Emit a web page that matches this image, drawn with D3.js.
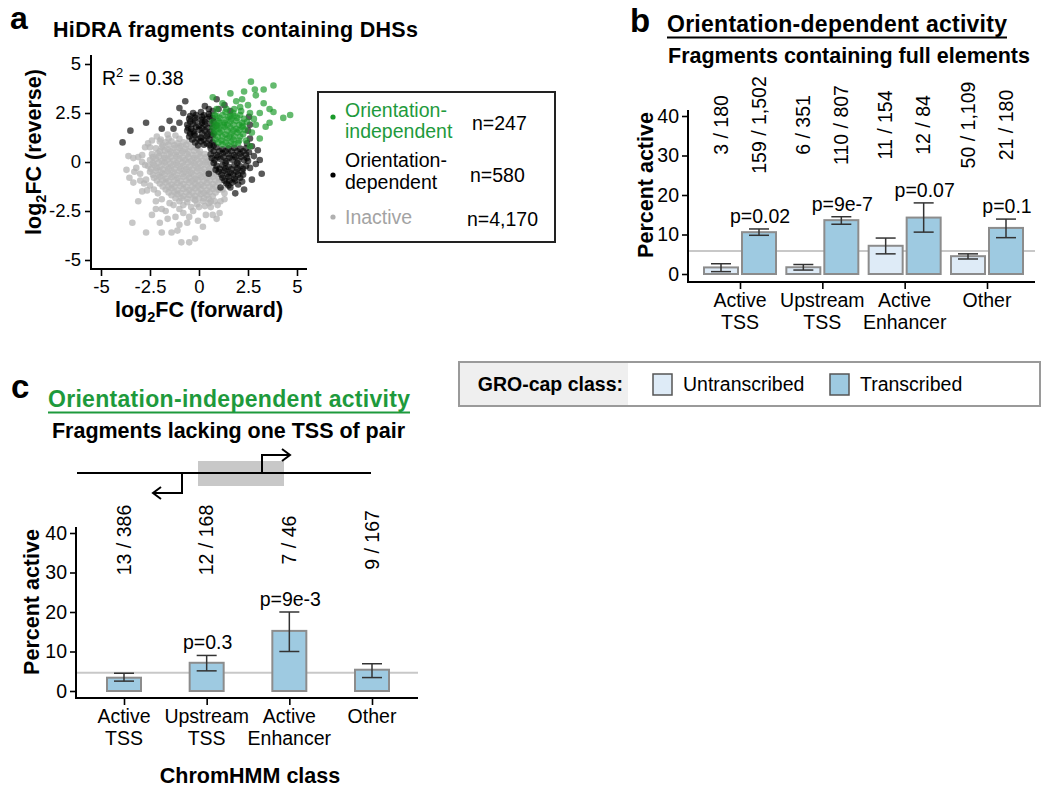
<!DOCTYPE html>
<html><head><meta charset="utf-8">
<script src="https://cdn.jsdelivr.net/npm/d3@7"></script>
<style>
body{margin:0;background:#fff;}
text{font-family:"Liberation Sans",Arial,sans-serif;}
</style></head>
<body><svg id="c" width="1050" height="792"></svg>
<script>
// ---------------- DATA ----------------
const inactivePts = [
[-3.4,-3.1],[-2.7,-3.6],[-1.9,-3.6],[-1.4,-3.6],[-1.1,-3.5],[-0.9,-4.1],[-0.5,-4.1],[-0.2,-3.9],[-0.6,-3.1],[-0.05,-3.0],[0.35,-2.7],[1.05,-2.6],[0.95,-2.2],[-1.9,-2.4],[-1.5,-2.1],[-2.65,-1.45],[-2.9,-1.5],[-3.35,-1.05],[-3.55,-0.8],[-3.7,-0.4],[-3.35,0.2],[-3.1,0.25],[-2.75,0.75],[-2.4,1.1],[-2.15,1.3],[-1.6,1.4],[-1.2,1.35],[-2.75,-0.15],[-3.0,-0.6],[-2.2,-2.0],[-1.2,-2.8],[-0.3,-2.5],[0.6,-2.3],[1.3,-1.9],[-0.8,-2.6],[-1.6,-2.9],[0.2,-3.3],[-2.4,-2.7],[-3.1,-2.0],[1.2,-1.4],[1.4,-1.0],
[-1.7,1.0],[-1.4,1.05],[-1.1,0.95],[-0.8,1.0],[-0.5,1.05],
[-2.2,0.7],[-1.9,0.75],[-1.6,0.65],[-1.3,0.7],[-1.0,0.72],[-0.7,0.68],[-0.4,0.75],[-0.1,0.7],
[-2.4,0.4],[-2.1,0.45],[-1.8,0.35],[-1.5,0.42],[-1.2,0.38],[-0.9,0.45],[-0.6,0.4],[-0.3,0.35],[0.0,0.42],[0.3,0.4],
[-2.5,0.1],[-2.2,0.15],[-1.9,0.05],[-1.6,0.12],[-1.3,0.08],[-1.0,0.15],[-0.7,0.1],[-0.4,0.05],[-0.1,0.12],[0.2,0.08],[0.5,0.1],
[-2.6,-0.2],[-2.3,-0.15],[-2.0,-0.25],[-1.7,-0.18],[-1.4,-0.22],[-1.1,-0.15],[-0.8,-0.2],[-0.5,-0.25],[-0.2,-0.18],[0.1,-0.22],[0.4,-0.15],[0.7,-0.2],
[-2.5,-0.5],[-2.2,-0.45],[-1.9,-0.55],[-1.6,-0.48],[-1.3,-0.52],[-1.0,-0.45],[-0.7,-0.5],[-0.4,-0.55],[-0.1,-0.48],[0.2,-0.52],[0.5,-0.45],[0.8,-0.5],
[-2.3,-0.8],[-2.0,-0.75],[-1.7,-0.85],[-1.4,-0.78],[-1.1,-0.82],[-0.8,-0.75],[-0.5,-0.8],[-0.2,-0.85],[0.1,-0.78],[0.4,-0.82],[0.7,-0.75],[1.0,-0.8],
[-2.0,-1.1],[-1.7,-1.05],[-1.4,-1.15],[-1.1,-1.08],[-0.8,-1.12],[-0.5,-1.05],[-0.2,-1.1],[0.1,-1.15],[0.4,-1.08],[0.7,-1.12],[1.0,-1.05],
[-1.7,-1.4],[-1.4,-1.35],[-1.1,-1.45],[-0.8,-1.38],[-0.5,-1.42],[-0.2,-1.35],[0.1,-1.4],[0.4,-1.45],[0.7,-1.38],[1.0,-1.42],
[-1.4,-1.7],[-1.1,-1.65],[-0.8,-1.75],[-0.5,-1.68],[-0.2,-1.72],[0.1,-1.65],[0.4,-1.7],[0.7,-1.75],
[-1.0,-2.0],[-0.6,-2.05],[-0.2,-1.95],[0.2,-2.0],[0.5,-2.1],
[-2.0,0.55],[-1.45,0.55],[-0.85,0.55],[-0.25,0.58],
[-2.35,-0.05],[-1.75,-0.03],[-1.15,-0.05],[-0.55,-0.02],[0.05,-0.05],[0.6,-0.05],
[-2.05,-0.65],[-1.45,-0.65],[-0.85,-0.62],[-0.25,-0.68],[0.35,-0.65],[0.9,-0.63],
[-1.85,-1.25],[-1.25,-1.25],[-0.65,-1.28],[-0.05,-1.22],[0.55,-1.25],
[-1.2,-1.85],[-0.6,-1.88],[0.0,-1.85],[0.5,-1.88],
[-3.0,-0.95],[-2.8,-1.1],[-2.9,0.35],[-2.6,0.95],[-2.1,-1.6],[-1.9,-1.9],[1.2,-0.5],[1.1,-2.0],[-0.4,-2.3],[-1.3,-2.2],[0.8,-2.0],[-2.5,-1.2],[-3.2,-0.3],[-1.0,-2.4],[0.0,-2.3],
[-1.85,0.85],[-1.55,0.88],[-1.25,0.85],[-0.95,0.82],[-0.65,0.88],
[-2.35,0.25],[-2.05,0.28],[-1.75,0.22],[-1.45,0.25],[-1.15,0.27],[-0.85,0.23],[-0.55,0.25],[-0.25,0.22],[0.05,0.27],[0.35,0.24],
[-2.45,-0.35],[-2.15,-0.32],[-1.85,-0.37],[-1.55,-0.34],[-1.25,-0.36],[-0.95,-0.33],[-0.65,-0.35],[-0.35,-0.38],[-0.05,-0.33],[0.25,-0.36],[0.55,-0.34],[0.85,-0.35],
[-2.15,-0.95],[-1.85,-0.93],[-1.55,-0.97],[-1.25,-0.94],[-0.95,-0.96],[-0.65,-0.93],[-0.35,-0.97],[-0.05,-0.94],[0.25,-0.96],[0.55,-0.93],[0.85,-0.95],[1.15,-0.92],
[-1.55,-1.55],[-1.25,-1.53],[-0.95,-1.57],[-0.65,-1.54],[-0.35,-1.56],[-0.05,-1.53],[0.25,-1.57],[0.55,-1.54],[0.85,-1.56],
[-1.75,0.58],[-1.15,0.52],[-0.55,0.55],[0.05,0.55],
[-2.05,-0.03],[-1.45,-0.06],[-0.85,-0.04],[-0.25,-0.06],[0.35,-0.03],
[-2.35,-0.65],[-1.75,-0.63],[-1.15,-0.66],[-0.55,-0.64],[0.05,-0.66],[0.65,-0.64],
[-1.55,-1.26],[-0.95,-1.23],[-0.35,-1.27],[0.25,-1.24],[0.85,-1.26],
[-0.9,-1.85],[-0.3,-1.87],[0.25,-1.85],
[-1.95,1.15],[-1.55,1.2],[-1.0,1.18],
[-0.8,-2.2],[0.3,-2.25],[-0.1,-2.15],[0.6,-2.0],
[-2.3,-1.4],[-2.7,-0.9],[-3.3,-0.5],[-2.9,0.0],[-2.5,0.75],[-2.0,1.05],[-3.6,0.3],[-1.7,-2.5],[-0.5,-2.8],[0.7,-2.7],[1.3,-1.6],[0.9,-2.9],[-2.0,-3.1],[-1.0,-3.2],[-2.2,-2.4]
];
const dependentPts = [
[-0.3,2.5],[0.1,2.55],[0.5,2.45],
[-0.5,2.2],[-0.2,2.25],[0.1,2.15],[0.4,2.2],[0.7,2.25],
[-0.6,1.9],[-0.3,1.95],[0.0,1.85],[0.3,1.9],[0.6,1.95],[0.9,1.85],
[-0.6,1.6],[-0.3,1.55],[0.0,1.65],[0.3,1.6],[0.6,1.55],
[-0.5,1.3],[-0.2,1.35],[0.1,1.25],[0.4,1.3],[0.7,1.35],
[-0.2,1.0],[0.1,1.05],[0.4,0.95],[0.7,1.0],
[0.6,0.7],[0.9,0.75],[1.2,0.65],[1.5,0.7],[1.8,0.72],[2.1,0.68],[2.4,0.7],
[0.6,0.4],[0.9,0.35],[1.2,0.45],[1.5,0.4],[1.8,0.35],[2.1,0.42],[2.4,0.38],
[0.8,0.1],[1.1,0.15],[1.4,0.05],[1.7,0.12],[2.0,0.08],[2.3,0.1],
[0.9,-0.2],[1.2,-0.15],[1.5,-0.25],[1.8,-0.18],[2.1,-0.22],[2.4,-0.2],
[1.0,-0.5],[1.3,-0.45],[1.6,-0.55],[1.9,-0.5],[2.2,-0.48],
[1.2,-0.8],[1.5,-0.75],[1.8,-0.85],[2.1,-0.8],
[1.4,-1.1],[1.7,-1.05],[2.0,-1.15],
[-0.45,2.05],[0.15,2.0],[0.75,2.05],[-0.45,1.45],[0.15,1.45],[0.75,1.45],[0.25,1.15],[0.75,0.55],[1.35,0.55],[1.95,0.55],[0.75,-0.05],[1.35,-0.05],[1.95,-0.05],[1.15,-0.65],[1.75,-0.65],[2.25,-0.65],[1.55,-0.95],
[-0.45,2.35],[-0.15,2.4],[0.25,2.38],[0.55,2.32],[-0.55,1.75],[-0.15,1.78],[0.15,1.72],[0.45,1.75],[0.75,1.75],[-0.35,1.15],[-0.05,1.18],[0.55,1.15],[-0.05,0.85],[0.25,0.88],[0.55,0.85],[0.15,2.3],[-0.2,2.1],[0.3,2.05],[-0.4,1.7],[0.45,1.42],[-0.25,1.45],
[0.75,0.85],[1.05,0.55],[1.65,0.55],[2.25,0.55],[0.95,0.25],[1.25,0.25],[1.55,0.22],[1.85,0.25],[2.15,0.27],[2.45,0.2],[1.05,-0.35],[1.35,-0.33],[1.65,-0.37],[1.95,-0.34],[2.25,-0.35],[1.45,-0.63],[2.0,-0.65],[1.3,-0.95],[1.85,-0.95],[2.2,-1.0],[1.6,-1.3],[0.65,0.2],[0.85,-0.4],[2.5,0.05],[2.55,0.5],
[2.6,1.9],[2.55,2.3],[2.45,0.95],[0.5,2.7],[0.7,2.6],
[1.0,2.7],[1.3,2.9],[0.9,3.2],[1.6,2.6],[2.6,1.2],[2.7,0.8],[2.8,0.3],[2.6,-0.3],[2.5,1.6],
[-3.9,1.0],[-3.5,1.6],[-2.7,2.0],[-1.9,1.7],[-1.3,1.7],[-0.7,3.1],[-1.0,2.75],[3.2,-0.6],[3.1,0.1],[1.85,-1.6],[1.5,-1.2],[2.9,-0.1],[2.3,-1.4],[0.5,-0.6],[-1.0,2.0],[-0.8,2.5],[0.3,2.85],[3.0,0.6],[2.7,-0.9],[1.1,-1.3],[-1.5,2.1]
];
const independentPts = [
[0.9,2.35],[1.2,2.4],[1.5,2.3],[1.8,2.35],[2.1,2.4],
[0.7,2.05],[1.0,2.1],[1.3,2.0],[1.6,2.05],[1.9,2.1],[2.2,2.0],[2.45,2.05],
[0.7,1.75],[1.0,1.7],[1.3,1.8],[1.6,1.75],[1.9,1.7],[2.2,1.78],
[0.75,1.45],[1.05,1.5],[1.35,1.4],[1.65,1.45],[1.95,1.5],[2.25,1.42],
[0.85,1.15],[1.15,1.1],[1.45,1.2],[1.75,1.15],[2.05,1.1],
[1.2,0.9],[1.5,0.85],[1.8,0.9],
[0.85,1.9],[1.45,1.9],[2.05,1.9],[1.15,1.6],[1.75,1.6],[0.95,1.3],[1.55,1.3],[2.1,1.3],[1.05,2.25],[1.65,2.2],
[1.05,2.0],[1.35,2.15],[1.95,2.25],[2.3,2.2],[0.85,1.6],[1.45,1.6],[2.05,1.62],[2.35,1.65],[1.2,1.3],[1.8,1.3],[1.0,1.0],[1.35,1.0],[1.65,1.02],[2.0,0.98],[1.25,1.88],[1.75,1.9],[2.25,1.85],[0.95,1.85],[1.6,2.35],[1.35,2.55],[1.75,2.5],[2.15,2.6],[0.8,2.4],
[2.65,4.1],[3.8,3.9],[1.6,3.5],[0.7,3.3],[4.65,2.4],[4.3,2.25],[3.6,2.7],[3.3,3.0],[2.9,3.4],[2.3,3.6],[1.9,3.1],[2.5,2.9],[3.1,2.5],[2.8,2.2],[3.6,2.0],[3.4,1.8],[2.7,1.5],[1.2,3.0],[2.1,2.8],[3.1,1.2],[1.8,2.7],[2.6,2.5],[1.4,2.7],[0.9,2.7],[3.3,3.7],[2.4,1.1],[2.9,1.9],[2.2,3.2],[3.8,2.55],[2.85,3.7],[2.6,0.8]
];
const scatterTicks = [-5,-2.5,0,2.5,5];
const scatterLegend = [
  {lines:["Orientation-","independent"], n:"n=247", cls:"independent"},
  {lines:["Orientation-","dependent"], n:"n=580", cls:"dependent"},
  {lines:["Inactive"], n:"n=4,170", cls:"inactive"}
];
const rSquared = "0.38";

const chromClasses = [["Active","TSS"],["Upstream","TSS"],["Active","Enhancer"],["Other"]];
const groClasses = ["Untranscribed","Transcribed"];
// panel b: [untranscribed, transcribed]
const bActive = [[3,159],[6,110],[11,12],[50,21]];
const bTotal  = [[180,1502],[351,807],[154,84],[1109,180]];
const bErrLo  = [[0.6,9.8],[1.0,12.6],[5.1,10.6],[3.8,9.2]];
const bErrHi  = [[2.6,11.4],[2.4,14.5],[9.1,18.0],[5.1,13.9]];
const bP      = ["p=0.02","p=9e-7","p=0.07","p=0.1"];
const bRef    = 5.8;
// panel c
const cActive = [13,12,7,9];
const cTotal  = [386,168,46,167];
const cErrLo  = [2.5,5.1,10.0,3.4];
const cErrHi  = [4.5,9.0,20.0,6.9];
const cP      = [null,"p=0.3","p=9e-3",null];
const cRef    = 4.6;
const pctTicks = [0,10,20,30,40];

// ---------------- DRAW ----------------
const svg = d3.select("#c");
svg.append("rect").attr("width",1050).attr("height",792).attr("fill","#fff");
const GREEN="#1e9a3c", FS=19.5;
const colors = {independent:"#1a9a2a", dependent:"#000", inactive:"#b4b4b4"};
const barFill = ["#deebf7","#9ecae1"];
const fmt = d3.format(",");

function txt(g,x,y,s,opt={}){
  const t=g.append("text").attr("x",x).attr("y",y).text(s)
    .attr("font-size",opt.size||FS).attr("fill",opt.fill||"#000")
    .attr("font-weight",opt.bold?"bold":"normal")
    .attr("text-anchor",opt.anchor||"start");
  if(opt.len) t.attr("textLength",opt.len).attr("lengthAdjust","spacing");
  return t;
}
function line(g,x1,y1,x2,y2,stroke="#000",w=2){
  return g.append("line").attr("x1",x1).attr("y1",y1).attr("x2",x2).attr("y2",y2)
    .attr("stroke",stroke).attr("stroke-width",w);
}
function styleAxis(g,size){
  g.select(".domain").remove();
  g.selectAll(".tick line").attr("stroke","#000").attr("stroke-width",1.6);
  g.selectAll(".tick text").attr("font-size",size||FS).attr("fill","#000")
    .attr("font-family","'Liberation Sans',Arial,sans-serif");
}

// ===== Panel a =====
const a = svg.append("g");
txt(a,10,29,"a",{size:32,bold:true});
txt(a,53,37,"HiDRA fragments containing DHSs",{size:21.5,bold:true,len:365});
const ax = d3.scaleLinear().domain([-5,5]).range([101,297]);
const ay = d3.scaleLinear().domain([-5,5]).range([260,64]);
const pts = [[inactivePts,"inactive",0.75],[dependentPts,"dependent",0.65],[independentPts,"independent",0.68]];
pts.forEach(([arr,cls,op])=>{
  a.append("g").selectAll("circle").data(arr).join("circle")
   .attr("cx",d=>ax(d[0])).attr("cy",d=>ay(d[1])).attr("r",3.3)
   .attr("fill",colors[cls]).attr("fill-opacity",op);
});
const gax = a.append("g").attr("transform","translate(0,269)")
  .call(d3.axisBottom(ax).tickValues(scatterTicks).tickSize(7).tickPadding(4).tickFormat(d=>String(d)));
styleAxis(gax,18.5);
const gay = a.append("g").attr("transform","translate(91,0)")
  .call(d3.axisLeft(ay).tickValues(scatterTicks).tickSize(6).tickPadding(4).tickFormat(d=>String(d)));
styleAxis(gay,18.5);
line(a,91,55,91,270);
line(a,90,269,307,269);
// axis titles
const xt = txt(a,199,317,"log",{size:21.5,bold:true,anchor:"middle"});
xt.append("tspan").attr("dy",5).attr("font-size",14.5).text("2");
xt.append("tspan").attr("dy",-5).text("FC (forward)");
const yt = a.append("text").attr("transform","translate(41,152) rotate(-90)")
  .attr("text-anchor","middle").attr("font-size",21.5).attr("font-weight","bold").text("log");
yt.append("tspan").attr("dy",5).attr("font-size",14.5).text("2");
yt.append("tspan").attr("dy",-5).text("FC (reverse)");
const rt = txt(a,102,85,"R",{size:19.5});
rt.append("tspan").attr("dy",-8).attr("font-size",13).text("2");
rt.append("tspan").attr("dy",8).text(" = "+rSquared);
// legend
a.append("rect").attr("x",318).attr("y",92).attr("width",237).attr("height",150)
  .attr("fill","none").attr("stroke","#222").attr("stroke-width",2);
const legY=[[117,138,117,130,472],[167,189,175,182,470],[224,null,217,226,467]];
scatterLegend.forEach((d,i)=>{
  const [y1,y2,dy,ny,nx]=legY[i];
  const col = d.cls==="independent"?GREEN:(d.cls==="inactive"?"#a3a3a3":"#000");
  a.append("circle").attr("cx",333).attr("cy",dy).attr("r",2.6)
    .attr("fill",d.cls==="inactive"?"#b0b0b0":colors[d.cls]);
  txt(a,345,y1,d.lines[0],{fill:col});
  if(d.lines[1]) txt(a,345,y2,d.lines[1],{fill:col});
  txt(a,nx,ny,d.n,{});
});

// ===== bar panels =====
function barPanel(g,opt){
  const y = d3.scaleLinear().domain([0,40]).range([opt.y0,opt.y40]);
  const x = d3.scalePoint().domain(d3.range(4)).range(opt.xr);
  line(g,opt.axX,y(opt.ref),opt.axR,y(opt.ref),"#c8c8c8",2);
  const gy = g.append("g").attr("transform",`translate(${opt.axX},0)`)
    .call(d3.axisLeft(y).tickValues(pctTicks).tickSize(6).tickPadding(3));
  styleAxis(gy);
  const gx = g.append("g").attr("transform",`translate(0,${opt.axY})`)
    .call(d3.axisBottom(x).tickSize(7).tickFormat(""));
  styleAxis(gx);
  line(g,opt.axX,opt.y40-6,opt.axX,opt.axY+1);
  line(g,opt.axX-1,opt.axY,opt.axR,opt.axY);
  chromClasses.forEach((lns,i)=>{
    lns.forEach((s,j)=> txt(g,x(i),opt.axY+25+j*22,s,{anchor:"middle"}));
  });
  opt.bars.forEach(b=>{
    const bw=34;
    g.append("g").selectAll("rect").data(b.vals).join("rect")
      .attr("x",(d,i)=>x(i)+b.off-bw/2).attr("width",bw)
      .attr("y",d=>y(d)).attr("height",d=>y(0)-y(d))
      .attr("fill",b.fill).attr("stroke","#8c8c8c").attr("stroke-width",2);
    b.vals.forEach((d,i)=>{
      const cx=x(i)+b.off, lo=y(b.lo[i]), hi=y(b.hi[i]);
      line(g,cx,lo,cx,hi,"#333",1.5);
      line(g,cx-10,lo,cx+10,lo,"#333",1.5);
      line(g,cx-10,hi,cx+10,hi,"#333",1.5);
      if(b.p && b.p[i]) txt(g,cx+1,hi-6,b.p[i],{anchor:"middle"});
      g.append("text").attr("transform",`translate(${cx},${opt.countY}) rotate(-90)`)
        .attr("text-anchor","middle").attr("dy","0.35em").attr("font-size",FS)
        .text(b.counts[i]);
    });
  });
  g.append("text").attr("transform",`translate(${opt.titleX},${(opt.y0+opt.y40)/2-10}) rotate(-90)`)
    .attr("text-anchor","middle").attr("font-size",21.5).attr("font-weight","bold").text("Percent active");
}

// Panel b
const b = svg.append("g");
txt(b,630,32,"b",{size:33,bold:true});
txt(b,667,32,"Orientation-dependent activity",{size:23,bold:true,len:340});
line(b,667,37.5,1007,37.5,"#000",2);
txt(b,668,63,"Fragments containing full elements",{size:21.5,bold:true,len:362});
barPanel(b,{y0:274,y40:116,xr:[740,987],axX:688,axY:282,axR:1035,ref:bRef,countY:125,titleX:653,
  bars:[0,1].map(k=>({
    off: k===0?-19:19, fill:barFill[k],
    vals:bActive.map((d,i)=>d[k]/bTotal[i][k]*100),
    lo:bErrLo.map(d=>d[k]), hi:bErrHi.map(d=>d[k]),
    p: k===1?bP:null,
    counts:bActive.map((d,i)=>d[k]+" / "+fmt(bTotal[i][k]))
  }))});

// GRO-cap legend
const lg = svg.append("g");
lg.append("rect").attr("x",459).attr("y",362).attr("width",169).attr("height",44).attr("fill","#efefef");
lg.append("rect").attr("x",459).attr("y",362).attr("width",581).attr("height",44)
  .attr("fill","none").attr("stroke","#9a9a9a").attr("stroke-width",2);
txt(lg,623,391,"GRO-cap class:",{bold:true,anchor:"end",size:19.5});
const legX=[653,830];
groClasses.forEach((s,i)=>{
  lg.append("rect").attr("x",legX[i]).attr("y",374).attr("width",19).attr("height",21)
    .attr("fill",barFill[i]).attr("stroke","#555").attr("stroke-width",1.5);
  txt(lg,legX[i]+30,391,s,{});
});

// Panel c
const c = svg.append("g");
txt(c,11,398,"c",{size:33,bold:true});
txt(c,48,407,"Orientation-independent activity",{size:23,bold:true,fill:GREEN,len:362});
line(c,48,412.5,410,412.5,GREEN,2);
txt(c,52,438,"Fragments lacking one TSS of pair",{size:21.5,bold:true,len:353});
c.append("rect").attr("x",198).attr("y",461).attr("width",86).attr("height",25).attr("fill","#c8c8c8");
line(c,77,473,371,473);
c.append("path").attr("d","M262,473 V455 H289 M282,449 L290,455 L282,461")
  .attr("fill","none").attr("stroke","#000").attr("stroke-width",2);
c.append("path").attr("d","M182,473 V493 H154 M161,487 L153,493 L161,499")
  .attr("fill","none").attr("stroke","#000").attr("stroke-width",2);
barPanel(c,{y0:691,y40:533,xr:[124,372],axX:76,axY:698,axR:418,ref:cRef,countY:540,titleX:39,
  bars:[{off:0,fill:barFill[1],vals:cActive.map((d,i)=>d/cTotal[i]*100),lo:cErrLo,hi:cErrHi,p:cP,
    counts:cActive.map((d,i)=>d+" / "+fmt(cTotal[i]))}]});
txt(c,250,783,"ChromHMM class",{size:21.5,bold:true,anchor:"middle"});
</script></body></html>
